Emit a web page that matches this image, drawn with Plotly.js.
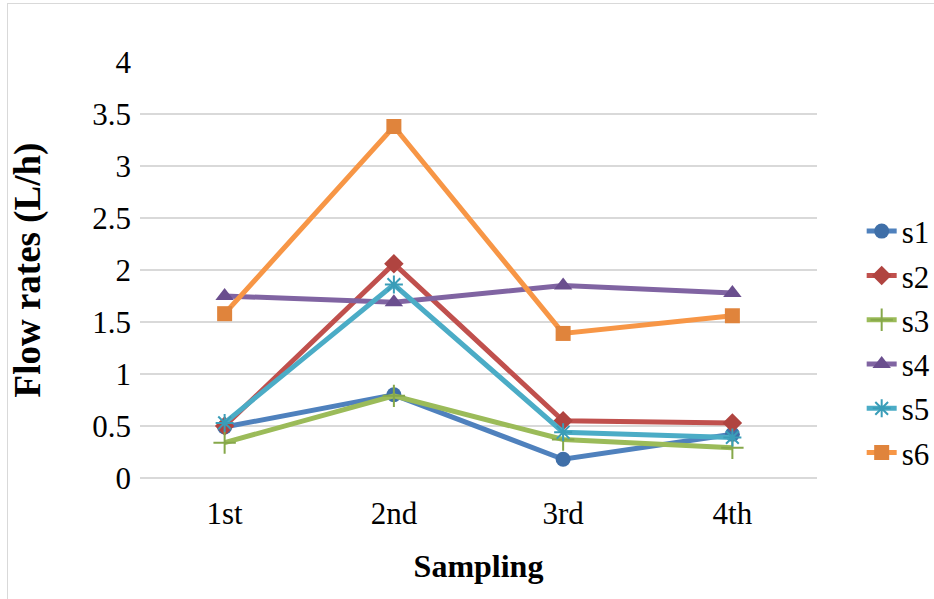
<!DOCTYPE html>
<html>
<head>
<meta charset="utf-8">
<script src="https://cdn.plot.ly/plotly-3.0.1.min.js"></script>
<style>
  html, body { margin: 0; padding: 0; background: #fff; }
  #wrap { position: relative; width: 934px; height: 599px; }
  #chart { width: 934px; height: 599px; }
  #frame { position: absolute; left: 7px; top: 3px; width: 940px; height: 610px;
           border: 1.5px solid #d9d9d9; box-sizing: border-box; pointer-events: none; }
</style>
</head>
<body>
<div id="wrap">
  <div id="chart"></div>
  <div id="frame"></div>
</div>
<script>
// Sampling rounds on the x axis
const samplings = ['1st', '2nd', '3rd', '4th'];

// Flow rate (L/h) per sampling round for each sensor
const s1 = [0.49, 0.80, 0.18, 0.42];
const s2 = [0.50, 2.06, 0.55, 0.53];
const s3 = [0.34, 0.79, 0.37, 0.29];
const s4 = [1.75, 1.69, 1.85, 1.78];
const s5 = [0.53, 1.86, 0.44, 0.39];
const s6 = [1.58, 3.38, 1.39, 1.56];

const seriesNames = ['s1', 's2', 's3', 's4', 's5', 's6'];
const seriesValues = [s1, s2, s3, s4, s5, s6];
const lineColors = ['#4F81BD', '#C0504D', '#9BBB59', '#8064A2', '#4BACC6', '#F79646'];
const markerColors = ['#3F6FA8', '#B04440', '#86A84A', '#6A4E8E', '#3A9DB8', '#E0843C'];
const markerSymbols = ['circle', 'diamond', 'cross-thin-open', 'triangle-up', 'asterisk-open', 'square'];
const markerSizes = [15, 15, 16, 16, 15, 15];

const traces = seriesNames.map((name, i) => {
  const thin = markerSymbols[i].endsWith('-open');
  return {
    type: 'scatter',
    mode: 'lines+markers',
    name: name,
    legendgroup: name,
    x: samplings,
    y: seriesValues[i],
    line: { color: lineColors[i], width: 5 },
    marker: {
      symbol: markerSymbols[i],
      size: markerSizes[i],
      color: markerColors[i],
      line: thin ? { color: markerColors[i], width: 2 } : { width: 0 }
    },
    hoverinfo: 'x+y+name'
  };
});

const serif = 'Liberation Serif, Times New Roman, serif';

const layout = {
  width: 934,
  height: 599,
  margin: { l: 140, r: 117, t: 62, b: 121, autoexpand: false },
  paper_bgcolor: '#ffffff',
  plot_bgcolor: '#ffffff',
  showlegend: true,
  font: { family: serif, color: '#000000', size: 30 },
  xaxis: {
    type: 'category',
    range: [-0.5, 3.5],
    showgrid: false,
    zeroline: false,
    showline: false,
    ticks: '',
    ticklabelstandoff: 14,
    tickfont: { family: serif, size: 31, color: '#000' },
    title: { text: '<b>Sampling</b>', font: { family: serif, size: 32, color: '#000' }, standoff: 24 }
  },
  yaxis: {
    range: [0, 4],
    dtick: 0.5,
    tick0: 0,
    showgrid: true,
    gridcolor: '#d9d9d9',
    gridwidth: 1.3,
    zeroline: true,
    zerolinecolor: '#d9d9d9',
    zerolinewidth: 1.3,
    showline: false,
    ticks: '',
    ticklabelstandoff: 8,
    tickfont: { family: serif, size: 31, color: '#000' },
    title: { text: '<b>Flow rates (L/h)</b>', font: { family: serif, size: 37, color: '#000' }, standoff: 40 }
  },
  legend: {
    x: 1.066,
    xanchor: 'left',
    y: 0.327,
    yanchor: 'middle',
    tracegroupgap: 1,
    font: { family: serif, size: 31, color: '#000' },
    bgcolor: 'rgba(0,0,0,0)'
  }
};

Plotly.newPlot('chart', traces, layout, { displayModeBar: false, staticPlot: true });
</script>
</body>
</html>
